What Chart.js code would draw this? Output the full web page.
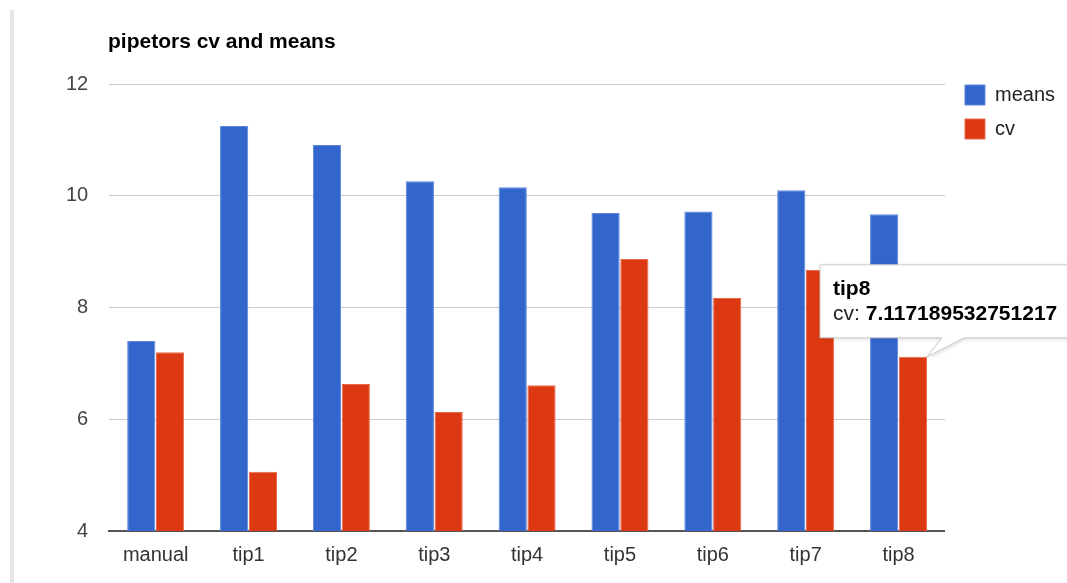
<!DOCTYPE html>
<html>
<head>
<meta charset="utf-8">
<script src="https://cdn.jsdelivr.net/npm/chart.js@4.4.1/dist/chart.umd.min.js"></script>
<style>
  html, body { margin: 0; padding: 0; background: #fff; }
  #wrap { position: relative; width: 1067px; height: 583px; overflow: hidden; }
  #edge { position: absolute; left: 10px; top: 10px; width: 4px; height: 573px; background: #e6e6e6; }
  #titulo { position: absolute; left: 108px; top: 29px; font: bold 21px Arial, "Liberation Sans", sans-serif; color: #000; }
  canvas { position: absolute; left: 0; top: 0; }
</style>
</head>
<body>
<div id="wrap">
  <div id="edge"></div>
  <canvas id="grafico" width="1067" height="583"></canvas>
  <div id="titulo">pipetors cv and means</div>
</div>
<script>
// Datos
const categorias = ["manual", "tip1", "tip2", "tip3", "tip4", "tip5", "tip6", "tip7", "tip8"];
const medias = [7.40, 11.25, 10.91, 10.26, 10.15, 9.69, 9.72, 10.10, 9.67];
const cv = [7.20, 5.06, 6.63, 6.13, 6.61, 8.87, 8.17, 8.67, 7.117189532751217];
const ticksY = [4, 6, 8, 10, 12];

const fuente = 'Arial, "Liberation Sans", sans-serif';

// Mover la leyenda un poco, como en Google Charts
const ajusteLeyenda = {
    id: 'ajusteLeyenda',
    afterLayout(chart) {
        const lg = chart.legend;
        if (!lg) return;
        const dx = chart.chartArea.right + 6 - lg.left;
        const dy = chart.chartArea.top - 13 - lg.top;
        lg.left += dx; lg.right += dx;
        lg.top += dy; lg.bottom += dy;
    }
};

// Tooltip fijo sobre tip8 / cv, como en la captura
const tooltipFijo = {
    id: 'tooltipFijo',
    afterDatasetsDraw(chart) {
        const idx = categorias.length - 1;
        const el = chart.getDatasetMeta(1).data[idx];
        if (!el) return;
        const ctx = chart.ctx;
        const tipX = el.x + el.width / 2;
        const tipY = el.y;
        const left = tipX - 107, top = tipY - 92, right = chart.width + 20, bottom = tipY - 19;

        ctx.save();
        ctx.shadowColor = 'rgba(0,0,0,0.18)';
        ctx.shadowBlur = 4;
        ctx.shadowOffsetX = 1;
        ctx.shadowOffsetY = 1;
        ctx.beginPath();
        ctx.moveTo(left, top);
        ctx.lineTo(right, top);
        ctx.lineTo(right, bottom);
        ctx.lineTo(tipX + 37, bottom);
        ctx.lineTo(tipX, tipY);
        ctx.lineTo(tipX + 15, bottom);
        ctx.lineTo(left, bottom);
        ctx.closePath();
        ctx.fillStyle = '#fff';
        ctx.fill();
        ctx.shadowColor = 'transparent';
        ctx.strokeStyle = '#cccccc';
        ctx.lineWidth = 1;
        ctx.stroke();

        ctx.textBaseline = 'middle';
        ctx.textAlign = 'left';
        ctx.fillStyle = '#000';
        ctx.font = 'bold 21px ' + fuente;
        ctx.fillText(categorias[idx], left + 13, top + 24);
        ctx.font = '21px ' + fuente;
        ctx.fillStyle = '#222';
        const pref = 'cv: ';
        ctx.fillText(pref, left + 13, top + 49);
        const w = ctx.measureText(pref).width;
        ctx.font = 'bold 21px ' + fuente;
        ctx.fillStyle = '#000';
        ctx.fillText(String(cv[idx]), left + 13 + w, top + 49);
        ctx.restore();
    }
};

new Chart(document.getElementById('grafico'), {
    type: 'bar',
    data: {
        labels: categorias,
        datasets: [
            {
                label: 'means',
                data: medias,
                backgroundColor: '#3366cc',
                borderColor: '#5a86db',
                borderWidth: 1,
                categoryPercentage: 0.62,
                barPercentage: 0.98
            },
            {
                label: 'cv',
                data: cv,
                backgroundColor: '#dc3912',
                borderColor: '#e8694a',
                borderWidth: 1,
                categoryPercentage: 0.62,
                barPercentage: 0.98
            }
        ]
    },
    options: {
        responsive: false,
        animation: false,
        layout: { padding: { top: 84, right: 8, bottom: 12, left: 45 } },
        plugins: {
            legend: {
                position: 'right',
                align: 'start',
                labels: {
                    boxWidth: 20,
                    boxHeight: 20,
                    padding: 14,
                    color: '#222',
                    font: { family: fuente, size: 20 }
                }
            },
            tooltip: { enabled: false }
        },
        scales: {
            x: {
                grid: { display: false },
                border: { color: '#555', width: 2 },
                ticks: { color: '#333', font: { family: fuente, size: 20 }, padding: 4 }
            },
            y: {
                min: 4,
                max: 12,
                afterBuildTicks: (axis) => { axis.ticks = ticksY.map(v => ({ value: v })); },
                grid: { color: '#cccccc', lineWidth: 1, drawTicks: false },
                border: { display: false },
                ticks: { color: '#444', font: { family: fuente, size: 20 }, padding: 21 }
            }
        }
    },
    plugins: [ajusteLeyenda, tooltipFijo]
});
</script>
</body>
</html>
